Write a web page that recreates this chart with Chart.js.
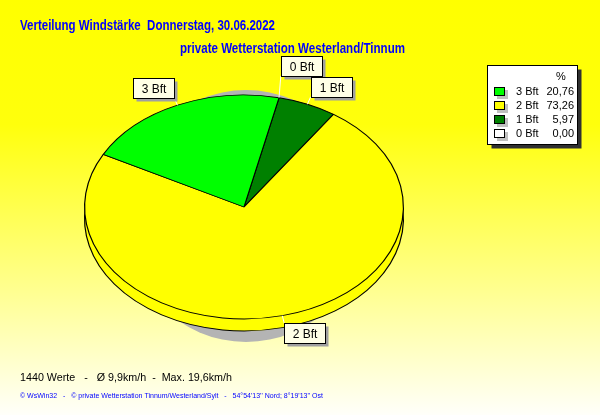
<!DOCTYPE html>
<html>
<head>
<meta charset="utf-8">
<script src="https://cdn.jsdelivr.net/npm/chart.js@4"></script>
<style>
  body { margin: 0; background: #ffffff; }
  #chart { display: block; }
</style>
</head>
<body>
<canvas id="chart" width="600" height="415"></canvas>
<script>
// Werte (Legende in dieser Reihenfolge)
const categories = ["3 Bft", "2 Bft", "1 Bft", "0 Bft"]
const percentages = [20.76, 73.26, 5.97, 0.00]
const sliceColors = ["#00ff00", "#ffff00", "#008000", "#ffffff"]

const titleText = "Verteilung Windstärke  Donnerstag, 30.06.2022"
const subTitleText = "private Wetterstation Westerland/Tinnum"
const infoText = "1440 Werte   -   Ø 9,9km/h  -  Max. 19,6km/h"
const footerText = "© WsWin32   -   © private Wetterstation Tinnum/Westerland/Sylt   -   54°54'13'' Nord; 8°19'13'' Ost"

// pie is drawn counter-clockwise in the original -> reverse for Chart.js
const pieLabels = categories.slice().reverse()
const pieValues = percentages.slice().reverse()
const pieColors = sliceColors.slice().reverse()

const RY = 112      // ellipse half height
const DEPTH = 12    // 3d height
const FONT = '"Liberation Sans", Arial, sans-serif'

const fmt = (v) => v.toFixed(2).replace(".", ",")

// draw text squeezed to a given width (the original uses a narrow font)
function fitText(ctx, txt, x, y, width) {
  const w = ctx.measureText(txt).width
  const sx = Math.min(1, width / w)
  ctx.save()
  ctx.translate(x, y)
  ctx.scale(sx, 1)
  ctx.fillText(txt, 0, 0)
  ctx.restore()
}

const pie3d = {
  id: "pie3d",
  beforeDraw(chart) {
    const ctx = chart.ctx
    const g = ctx.createLinearGradient(0, 0, 0, chart.height)
    g.addColorStop(0, "#ffff00")
    g.addColorStop(0.3, "#ffff0c")
    g.addColorStop(0.7, "#ffff90")
    g.addColorStop(1, "#fffffa")
    ctx.save()
    ctx.fillStyle = g
    ctx.fillRect(0, 0, chart.width, chart.height)
    ctx.restore()
  },
  beforeDatasetsDraw(chart) {
    const ctx = chart.ctx
    const meta = chart.getDatasetMeta(0)
    const a0 = meta.data[0]
    const cx = a0.x, cy = a0.y, r = a0.outerRadius
    const k = RY / r
    // shadow
    ctx.save()
    ctx.fillStyle = "#b4b4b4"
    ctx.beginPath()
    ctx.ellipse(cx + 2, cy + 9, r - 38, RY + 14, 0, 0, Math.PI * 2)
    ctx.fill()
    ctx.restore()
    // side (lower copy)
    ctx.save()
    ctx.translate(cx, cy + DEPTH)
    ctx.scale(1, k)
    ctx.translate(-cx, -cy)
    meta.data.forEach((arc) => arc.draw(ctx))
    ctx.restore()
    // top face: squash the regular draw
    ctx.save()
    ctx.translate(cx, cy)
    ctx.scale(1, k)
    ctx.translate(-cx, -cy)
  },
  afterDatasetsDraw(chart) {
    chart.ctx.restore()
  },
  afterDraw(chart) {
    const ctx = chart.ctx
    const meta = chart.getDatasetMeta(0)
    const a0 = meta.data[0]
    const cx = a0.x, cy = a0.y, r = a0.outerRadius

    ctx.save()
    // titles
    ctx.fillStyle = "#0000ff"
    ctx.textBaseline = "alphabetic"
    ctx.font = "bold 14px " + FONT
    fitText(ctx, titleText, 20, 30, 255)
    fitText(ctx, subTitleText, 180, 53, 225)

    // info lines
    ctx.fillStyle = "#000000"
    ctx.font = "11px " + FONT
    fitText(ctx, infoText, 20, 381, 212)
    ctx.fillStyle = "#0000ff"
    ctx.font = "8px " + FONT
    fitText(ctx, footerText, 20, 398, 303)

    // slice labels
    ctx.font = "12px " + FONT
    const boxes = []
    meta.data.forEach((arc, i) => {
      const mid = (arc.startAngle + arc.endAngle) / 2
      const c = Math.cos(mid), s = Math.sin(mid)
      const ex = cx + r * c, ey = cy + RY * s
      const px = cx + (r + 8) * c, py = cy + (RY + 8) * s
      const txt = pieLabels[i]
      const w = Math.round(ctx.measureText(txt).width) + 16
      const h = 20
      const x = c >= 0 ? px : px - w
      const y = s < 0 ? py - h : py
      boxes.push({ i, x, y, w, h, ex, ey, px, py, txt })
    })
    // push overlapping boxes upwards
    for (let a = 0; a < boxes.length; a++) {
      for (let b = 0; b < boxes.length; b++) {
        if (a === b) continue
        const A = boxes[a], B = boxes[b]
        const overlap = A.x < B.x + B.w && A.x + A.w > B.x && A.y < B.y + B.h && A.y + A.h > B.y
        if (overlap && pieValues[A.i] < pieValues[B.i]) {
          A.y = B.y - A.h - 1
        }
      }
    }
    boxes.forEach((bx) => {
      // leader line
      ctx.strokeStyle = "#ffffff"
      ctx.lineWidth = 1
      ctx.beginPath()
      ctx.moveTo(bx.ex, bx.ey)
      const lx = Math.min(Math.max(bx.px, bx.x), bx.x + bx.w)
      const ly = bx.y + bx.h <= bx.py ? bx.y + bx.h : bx.y
      ctx.lineTo(lx, ly)
      ctx.stroke()
      const x = Math.round(bx.x) + 0.5, y = Math.round(bx.y) + 0.5
      ctx.fillStyle = "#a0a0a0"
      ctx.fillRect(x + 3, y + 3, bx.w, bx.h)
      ctx.fillStyle = "#ffffe6"
      ctx.fillRect(x, y, bx.w, bx.h)
      ctx.strokeStyle = "#000000"
      ctx.strokeRect(x, y, bx.w, bx.h)
      ctx.fillStyle = "#000000"
      ctx.textAlign = "center"
      ctx.textBaseline = "middle"
      ctx.fillText(bx.txt, x + bx.w / 2, y + bx.h / 2 + 1)
    })

    // legend box
    const lx = 487.5, ly = 65.5, lw = 90, lh = 79
    ctx.fillStyle = "#303030"
    ctx.fillRect(lx + 4, ly + 4, lw, lh)
    ctx.fillStyle = "#ffffff"
    ctx.fillRect(lx, ly, lw, lh)
    ctx.strokeStyle = "#000000"
    ctx.lineWidth = 1
    ctx.strokeRect(lx, ly, lw, lh)
    ctx.font = "11px " + FONT
    ctx.fillStyle = "#000000"
    ctx.textBaseline = "middle"
    ctx.textAlign = "left"
    ctx.fillText("%", 556, 77)
    categories.forEach((cat, i) => {
      const yy = 92 + i * 14
      ctx.fillStyle = "#c0c0c0"
      ctx.fillRect(497, yy - 2, 11, 9)
      ctx.fillStyle = sliceColors[i]
      ctx.fillRect(494.5, yy - 4.5, 10, 8)
      ctx.strokeStyle = "#000000"
      ctx.strokeRect(494.5, yy - 4.5, 10, 8)
      ctx.fillStyle = "#000000"
      ctx.textAlign = "left"
      ctx.fillText(cat, 516, yy)
      ctx.textAlign = "right"
      ctx.fillText(fmt(percentages[i]), 574, yy)
    })
    ctx.restore()
  },
}

new Chart(document.getElementById("chart"), {
  type: "pie",
  data: {
    labels: pieLabels,
    datasets: [
      {
        data: pieValues,
        backgroundColor: pieColors,
        borderColor: "#000000",
        borderWidth: 1.2,
      },
    ],
  },
  options: {
    responsive: false,
    animation: false,
    events: [],
    rotation: 12.7,
    layout: { padding: { left: 84, right: 196, top: 47, bottom: 48 } },
    plugins: {
      legend: { display: false },
      tooltip: { enabled: false },
    },
  },
  plugins: [pie3d],
})
</script>
</body>
</html>
